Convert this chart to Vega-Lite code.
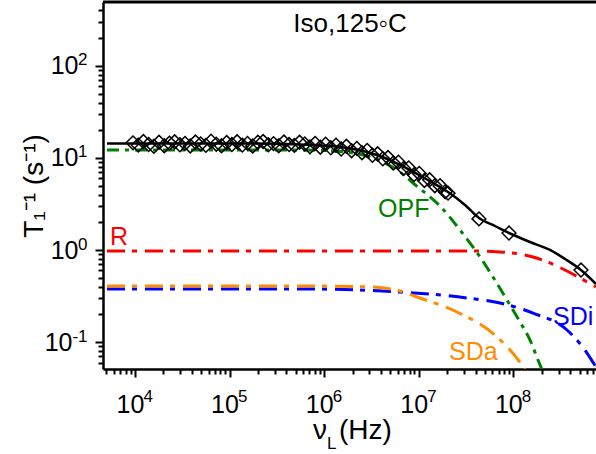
{
  "$schema": "https://vega.github.io/schema/vega-lite/v6.json",
  "width": 493,
  "height": 367,
  "autosize": {"type": "none"},
  "padding": {"left": 103, "top": 2, "right": 0, "bottom": 85},
  "background": "white",
  "config": {
    "view": {"stroke": null},
    "font": "Liberation Sans",
    "axis": {
      "domainColor": "black", "domainWidth": 2.5,
      "tickColor": "black", "tickWidth": 2, "grid": false,
      "labelFont": "Liberation Sans", "labelFontSize": 25, "labelColor": "black",
      "labelOverlap": false, "labelFlush": false, "labelBound": false,
      "titleFont": "Liberation Sans", "titleFontSize": 28, "titleFontWeight": "normal", "titleColor": "black"
    }
  },
  "resolve": {"axis": {"x": "independent", "y": "independent"}},
  "datasets": {
    "curves": [
      {"s": "fit", "x": 5070, "y": 14.36}, {"s": "fit", "x": 164600, "y": 14.36}, {"s": "fit", "x": 556000, "y": 14.01},
      {"s": "fit", "x": 1472000, "y": 13.16}, {"s": "fit", "x": 2838000, "y": 11.61}, {"s": "fit", "x": 4397000, "y": 9.99},
      {"s": "fit", "x": 6336000, "y": 8.39}, {"s": "fit", "x": 9580000, "y": 6.70}, {"s": "fit", "x": 14140000, "y": 5.35},
      {"s": "fit", "x": 20370000, "y": 4.27}, {"s": "fit", "x": 30820000, "y": 3.09}, {"s": "fit", "x": 43310000, "y": 2.23},
      {"s": "fit", "x": 63950000, "y": 1.825}, {"s": "fit", "x": 89900000, "y": 1.532}, {"s": "fit", "x": 149900000, "y": 1.223},
      {"s": "fit", "x": 243900000, "y": 1.002}, {"s": "fit", "x": 351200000, "y": 0.800}, {"s": "fit", "x": 518500000, "y": 0.607},
      {"s": "fit", "x": 747000000, "y": 0.428},
      {"s": "OPF", "x": 5070, "y": 12.21}, {"s": "OPF", "x": 556000, "y": 12.21}, {"s": "OPF", "x": 1472000, "y": 11.76},
      {"s": "OPF", "x": 2838000, "y": 10.5}, {"s": "OPF", "x": 4397000, "y": 8.82}, {"s": "OPF", "x": 6336000, "y": 7.04},
      {"s": "OPF", "x": 8700000, "y": 5.35}, {"s": "OPF", "x": 13150000, "y": 3.77}, {"s": "OPF", "x": 16770000, "y": 3.01},
      {"s": "OPF", "x": 27290000, "y": 1.651}, {"s": "OPF", "x": 44400000, "y": 0.841}, {"s": "OPF", "x": 85600000, "y": 0.287},
      {"s": "OPF", "x": 117500000, "y": 0.1655}, {"s": "OPF", "x": 149900000, "y": 0.1055}, {"s": "OPF", "x": 182100000, "y": 0.064},
      {"s": "OPF", "x": 205600000, "y": 0.0474},
      {"s": "R", "x": 5070, "y": 0.977}, {"s": "R", "x": 44400000, "y": 0.977}, {"s": "R", "x": 72200000, "y": 0.953},
      {"s": "R", "x": 117500000, "y": 0.906}, {"s": "R", "x": 161300000, "y": 0.841}, {"s": "R", "x": 243900000, "y": 0.724},
      {"s": "R", "x": 351200000, "y": 0.607}, {"s": "R", "x": 506000000, "y": 0.497}, {"s": "R", "x": 747000000, "y": 0.397},
      {"s": "SDi", "x": 5070, "y": 0.378}, {"s": "SDi", "x": 556000, "y": 0.378}, {"s": "SDi", "x": 6336000, "y": 0.35},
      {"s": "SDi", "x": 32360000, "y": 0.302}, {"s": "SDi", "x": 72200000, "y": 0.266}, {"s": "SDi", "x": 161300000, "y": 0.207},
      {"s": "SDi", "x": 368700000, "y": 0.1355}, {"s": "SDi", "x": 600000000, "y": 0.0762}, {"s": "SDi", "x": 747000000, "y": 0.0537},
      {"s": "SDa", "x": 5070, "y": 0.407}, {"s": "SDa", "x": 556000, "y": 0.407}, {"s": "SDa", "x": 3053000, "y": 0.397},
      {"s": "SDa", "x": 6336000, "y": 0.359}, {"s": "SDa", "x": 9580000, "y": 0.309}, {"s": "SDa", "x": 25360000, "y": 0.2126},
      {"s": "SDa", "x": 67140000, "y": 0.1137}, {"s": "SDa", "x": 126400000, "y": 0.0537}, {"s": "SDa", "x": 136000000, "y": 0.0474}
    ],
    "pts": [
      {"x": 9550, "y": 14.6}, {"x": 10840, "y": 13.8}, {"x": 12300, "y": 15.1}, {"x": 13960, "y": 14.0},
      {"x": 15850, "y": 13.4}, {"x": 17990, "y": 14.8}, {"x": 20420, "y": 13.6}, {"x": 23170, "y": 14.5},
      {"x": 26300, "y": 15.0}, {"x": 29850, "y": 13.9}, {"x": 33880, "y": 14.4}, {"x": 38460, "y": 13.5},
      {"x": 43650, "y": 14.9}, {"x": 49550, "y": 14.2}, {"x": 56230, "y": 13.7}, {"x": 63830, "y": 15.2},
      {"x": 72440, "y": 14.1}, {"x": 82220, "y": 13.6}, {"x": 93330, "y": 14.7}, {"x": 105900, "y": 14.0},
      {"x": 120200, "y": 15.0}, {"x": 136500, "y": 13.8}, {"x": 154900, "y": 14.4}, {"x": 175800, "y": 13.5},
      {"x": 199500, "y": 14.8}, {"x": 226500, "y": 15.1}, {"x": 257000, "y": 13.9}, {"x": 291700, "y": 14.3},
      {"x": 331100, "y": 13.6}, {"x": 375800, "y": 14.9}, {"x": 426600, "y": 14.0}, {"x": 484200, "y": 13.7},
      {"x": 549500, "y": 14.8}, {"x": 623700, "y": 14.2}, {"x": 707900, "y": 13.2}, {"x": 803500, "y": 14.4},
      {"x": 912000, "y": 13.1}, {"x": 1035000, "y": 14.1}, {"x": 1175000, "y": 12.9}, {"x": 1334000, "y": 13.8},
      {"x": 1514000, "y": 12.5}, {"x": 1718000, "y": 13.4}, {"x": 1950000, "y": 12.0}, {"x": 2213000, "y": 12.7},
      {"x": 2512000, "y": 11.4}, {"x": 2851000, "y": 12.1}, {"x": 3236000, "y": 10.7}, {"x": 3673000, "y": 11.1},
      {"x": 4169000, "y": 9.8}, {"x": 4732000, "y": 10.1}, {"x": 5370000, "y": 8.8}, {"x": 6095000, "y": 9.0},
      {"x": 6918000, "y": 7.7}, {"x": 7852000, "y": 7.8}, {"x": 8913000, "y": 6.6}, {"x": 10120000, "y": 6.8},
      {"x": 11480000, "y": 5.7}, {"x": 13030000, "y": 5.8}, {"x": 14790000, "y": 5.0}, {"x": 16790000, "y": 5.0},
      {"x": 19050000, "y": 4.3}, {"x": 20400000, "y": 4.15},
      {"x": 43310000, "y": 2.18}, {"x": 89900000, "y": 1.53}, {"x": 518500000, "y": 0.607}
    ],
    "labels": [
      {"label": "R", "x": 5456, "y": 1.135},
      {"label": "OPF", "x": 3710000, "y": 2.286},
      {"label": "SDi", "x": 262400000, "y": 0.1535},
      {"label": "SDa", "x": 20870000, "y": 0.064}
    ],
    "title": [{"label": "Iso,125◦C", "x": 1877000, "y": 233.4}],
    "xtitle": [
      {"part": "nu", "label": "ν", "x": 763000, "y": 0.0511},
      {"part": "sub", "label": "L", "x": 1072000, "y": 0.0511},
      {"part": "unit", "label": "(Hz)", "x": 1436000, "y": 0.0511}
    ]
  },
  "layer": [
    {
      "data": {"name": "curves"},
      "transform": [{"filter": "datum.s == 'R'"}],
      "mark": {"type": "line", "color": "#ff0000", "strokeWidth": 3, "strokeDash": [18, 7, 5, 8], "interpolate": "monotone", "clip": true},
      "encoding": {
        "x": {"field": "x", "type": "quantitative", "scale": {"type": "log", "domain": [4600, 747000000]},
          "axis": {
            "orient": "bottom", "title": null,
            "values": [10000, 100000, 1000000, 10000000, 100000000],
            "labelExpr": "'10'",
            "tickSize": 8, "labelPadding": 35, "labelBaseline": "alphabetic", "labelAlign": "center", "labelOffset": -5
          }},
        "y": {"field": "y", "type": "quantitative", "scale": {"type": "log", "domain": [0.0511, 494]},
          "axis": {
            "orient": "left",
            "title": "T₁⁻¹ (s⁻¹)",
            "titlePadding": 2,
            "values": [1, 10, 100],
            "labelExpr": "'10'",
            "tickSize": 8, "labelPadding": 17, "labelAlign": "right", "labelBaseline": "middle"
          }}
      }
    },
    {
      "data": {"name": "curves"},
      "transform": [{"filter": "datum.s == 'SDi'"}],
      "mark": {"type": "line", "color": "#0000ff", "strokeWidth": 3, "strokeDash": [18, 7, 5, 8], "interpolate": "monotone", "clip": true},
      "encoding": {
        "x": {"field": "x", "type": "quantitative", "scale": {"type": "log", "domain": [4600, 747000000]},
          "axis": {
            "orient": "bottom", "title": null, "labels": false, "domain": false, "tickSize": 5,
            "values": [5000, 6000, 7000, 8000, 9000, 20000, 30000, 40000, 50000, 60000, 70000, 80000, 90000, 200000, 300000, 400000, 500000, 600000, 700000, 800000, 900000, 2000000, 3000000, 4000000, 5000000, 6000000, 7000000, 8000000, 9000000, 20000000, 30000000, 40000000, 50000000, 60000000, 70000000, 80000000, 90000000, 200000000, 300000000, 400000000, 500000000, 600000000, 700000000]
          }},
        "y": {"field": "y", "type": "quantitative", "scale": {"type": "log", "domain": [0.0511, 494]},
          "axis": {
            "orient": "left", "title": null, "labels": false, "domain": false, "tickSize": 5,
            "values": [0.06, 0.07, 0.08, 0.09, 0.2, 0.3, 0.4, 0.5, 0.6, 0.7, 0.8, 0.9, 2, 3, 4, 5, 6, 7, 8, 9, 20, 30, 40, 50, 60, 70, 80, 90, 200, 300, 400]
          }}
      }
    },
    {
      "data": {"name": "curves"},
      "transform": [{"filter": "datum.s == 'SDa'"}],
      "mark": {"type": "line", "color": "#ff8c00", "strokeWidth": 3, "strokeDash": [18, 7, 5, 8], "interpolate": "monotone", "clip": true},
      "encoding": {
        "x": {"field": "x", "type": "quantitative", "scale": {"type": "log", "domain": [4600, 747000000]},
          "axis": {
            "orient": "bottom", "title": null, "domain": false, "tickSize": 8, "tickOpacity": 0,
            "values": [10000, 100000, 1000000, 10000000, 100000000],
            "labelExpr": "datum.value == 10000 ? '4' : datum.value == 100000 ? '5' : datum.value == 1000000 ? '6' : datum.value == 10000000 ? '7' : '8'",
            "labelFontSize": 17, "labelPadding": 24, "labelBaseline": "alphabetic", "labelAlign": "left", "labelOffset": 8
          }},
        "y": {"field": "y", "type": "quantitative", "scale": {"type": "log", "domain": [0.0511, 494]},
          "axis": {
            "orient": "left", "title": null, "domain": false, "tickSize": 8, "tickOpacity": 0,
            "values": [0.1, 1, 10, 100],
            "labelExpr": "datum.value == 0.1 ? '-1' : datum.value == 1 ? '0' : datum.value == 10 ? '1' : '2'",
            "labelFontSize": 17, "labelPadding": 8, "labelBaseline": "alphabetic", "labelAlign": "right", "labelOffset": -1
          }}
      }
    },
    {
      "data": {"name": "curves"},
      "transform": [{"filter": "datum.s == 'OPF'"}],
      "mark": {"type": "line", "color": "#008000", "strokeWidth": 3, "strokeDash": [12, 6, 4, 6], "interpolate": "monotone", "clip": true},
      "encoding": {
        "x": {"field": "x", "type": "quantitative", "scale": {"type": "log", "domain": [4600, 747000000]}, "axis": null},
        "y": {"field": "y", "type": "quantitative", "scale": {"type": "log", "domain": [0.0511, 494]},
          "axis": {
            "orient": "left", "title": null, "domain": false, "tickSize": 8,
            "values": [0.1],
            "labelExpr": "'10'",
            "labelPadding": 23, "labelAlign": "right", "labelBaseline": "middle"
          }}
      }
    },
    {
      "data": {"name": "curves"},
      "transform": [{"filter": "datum.s == 'fit'"}],
      "mark": {"type": "line", "color": "black", "strokeWidth": 2.5, "interpolate": "monotone", "clip": true},
      "encoding": {
        "x": {"field": "x", "type": "quantitative", "scale": {"type": "log", "domain": [4600, 747000000]}, "axis": null},
        "y": {"field": "y", "type": "quantitative", "scale": {"type": "log", "domain": [0.0511, 494]}, "axis": null}
      }
    },
    {
      "data": {"name": "pts"},
      "mark": {"type": "point", "shape": "diamond", "filled": false, "stroke": "black", "strokeWidth": 1.5, "size": 190, "opacity": 1},
      "encoding": {
        "x": {"field": "x", "type": "quantitative", "scale": {"type": "log", "domain": [4600, 747000000]}, "axis": null},
        "y": {"field": "y", "type": "quantitative", "scale": {"type": "log", "domain": [0.0511, 494]}, "axis": null}
      }
    },
    {
      "data": {"name": "labels"},
      "mark": {"type": "text", "align": "left", "baseline": "alphabetic", "fontSize": 25, "font": "Liberation Sans"},
      "encoding": {
        "x": {"field": "x", "type": "quantitative", "scale": {"type": "log", "domain": [4600, 747000000]}, "axis": null},
        "y": {"field": "y", "type": "quantitative", "scale": {"type": "log", "domain": [0.0511, 494]}, "axis": null},
        "text": {"field": "label"},
        "color": {"field": "label", "type": "nominal", "scale": {"domain": ["R", "OPF", "SDi", "SDa"], "range": ["#ff0000", "#008000", "#0000ff", "#ff8c00"]}, "legend": null}
      }
    },
    {
      "data": {"name": "title"},
      "mark": {"type": "text", "align": "center", "baseline": "alphabetic", "fontSize": 26, "font": "Liberation Sans", "color": "black"},
      "encoding": {
        "x": {"field": "x", "type": "quantitative", "scale": {"type": "log", "domain": [4600, 747000000]}, "axis": null},
        "y": {"field": "y", "type": "quantitative", "scale": {"type": "log", "domain": [0.0511, 494]}, "axis": null},
        "text": {"field": "label"}
      }
    },
    {
      "data": {"name": "xtitle"},
      "transform": [{"filter": "datum.part != 'sub'"}],
      "mark": {"type": "text", "align": "left", "baseline": "alphabetic", "fontSize": 28, "font": "Liberation Sans", "color": "black", "dy": 70, "clip": false},
      "encoding": {
        "x": {"field": "x", "type": "quantitative", "scale": {"type": "log", "domain": [4600, 747000000]}, "axis": null},
        "y": {"field": "y", "type": "quantitative", "scale": {"type": "log", "domain": [0.0511, 494]}, "axis": null},
        "text": {"field": "label"}
      }
    },
    {
      "data": {"name": "xtitle"},
      "transform": [{"filter": "datum.part == 'sub'"}],
      "mark": {"type": "text", "align": "left", "baseline": "alphabetic", "fontSize": 17, "font": "Liberation Sans", "color": "black", "dy": 80, "clip": false},
      "encoding": {
        "x": {"field": "x", "type": "quantitative", "scale": {"type": "log", "domain": [4600, 747000000]}, "axis": null},
        "y": {"field": "y", "type": "quantitative", "scale": {"type": "log", "domain": [0.0511, 494]}, "axis": null},
        "text": {"field": "label"}
      }
    },
    {
      "data": {"values": [{}]},
      "mark": {"type": "rule", "color": "black", "strokeWidth": 3},
      "encoding": {
        "y": {"datum": 494, "type": "quantitative", "scale": {"type": "log", "domain": [0.0511, 494]}, "axis": null}
      }
    }
  ]
}
